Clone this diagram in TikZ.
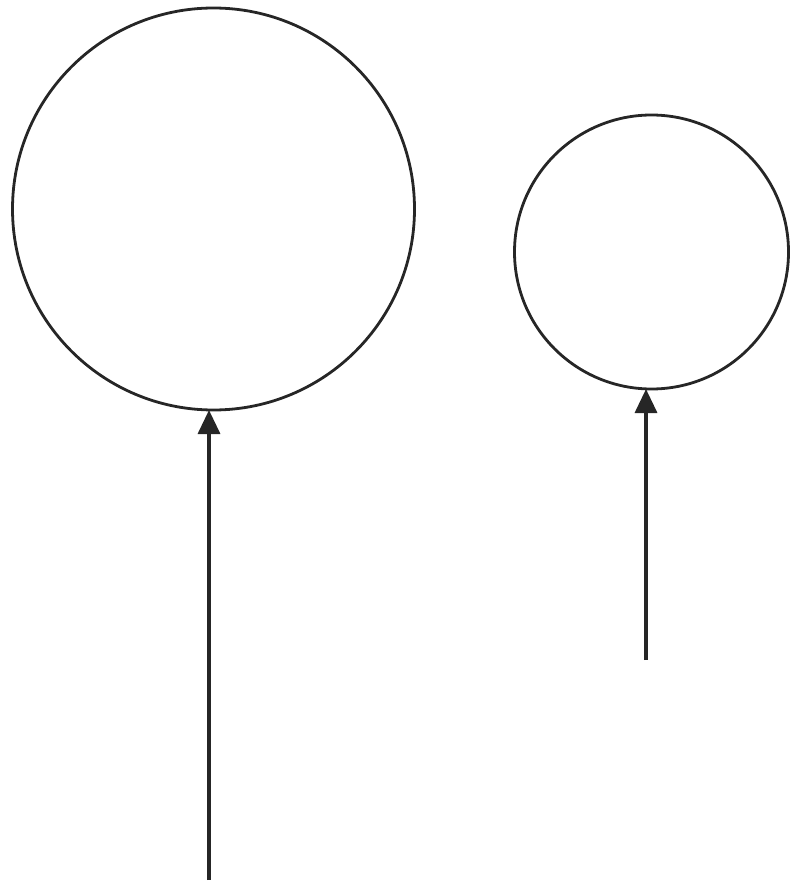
\documentclass[tikz,border=0pt]{standalone}
\usetikzlibrary{arrows.meta}
\begin{document}
\begin{tikzpicture}[x=1pt,y=-1pt,
  ring/.style={circle,draw=black!85,line width=2.8pt,inner sep=0pt,outer sep=0pt},
  upline/.style={draw=black!85,line width=3.4pt,-{Triangle[length=24pt,width=22pt]}}]
\useasboundingbox (0,0) rectangle (795,890);
\node[ring,minimum size=402pt] (big) at (213.5,209) {};
\node[ring,minimum size=274pt] (small) at (651.5,252) {};
\coordinate (bigfoot) at (209,880);
\coordinate (smallfoot) at (646,660);
\draw[upline] (bigfoot) -- (bigfoot |- big.south);
\draw[upline] (smallfoot) -- (smallfoot |- small.south);
\end{tikzpicture}
\end{document}
